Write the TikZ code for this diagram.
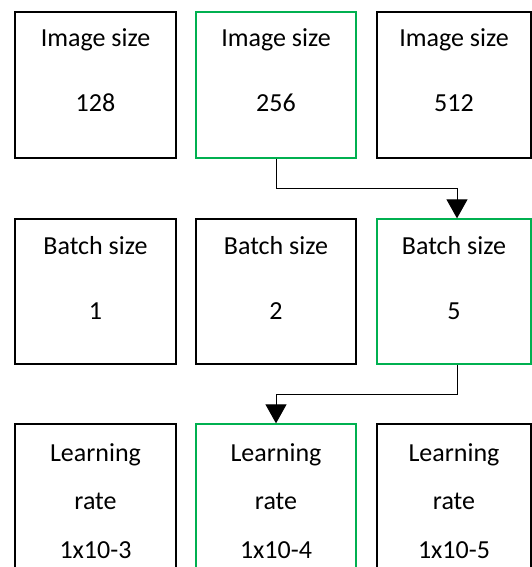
\documentclass[tikz,border=0pt]{standalone}
\usepackage{fontspec}
\setmainfont{Carlito}
\usetikzlibrary{arrows.meta}
\definecolor{okgreen}{RGB}{0,176,80}
\begin{document}
\begin{tikzpicture}[x=1pt,y=-1pt,
  box/.style={draw=black,line width=1.3pt,inner sep=0pt},
  gbox/.style={draw=okgreen,line width=1.3pt,inner sep=0pt},
  lbl/.style={anchor=base,inner sep=0pt,font=\fontsize{26}{30}\selectfont},
  conn/.style={line width=1pt,-{Triangle[width=21pt,length=19pt]}}]
\useasboundingbox (0,0) rectangle (532,567);
% row 1
\node[box] (a1) at (95.5,85) [minimum width=161pt,minimum height=146pt] {};
\node[gbox] (a2) at (276,85) [minimum width=160pt,minimum height=146pt] {};
\node[box] (a3) at (454,85) [minimum width=154pt,minimum height=146pt] {};
\node[lbl] (t11) at (95.5,47) {Image size};
\node[lbl] (t12) at (95.5,112) {128};
\node[lbl] (t21) at (276,47) {Image size};
\node[lbl] (t22) at (276,112) {256};
\node[lbl] (t31) at (454,47) {Image size};
\node[lbl] (t32) at (454,112) {512};
% row 2
\node[box] (b1) at (95.5,291.5) [minimum width=161pt,minimum height=145pt] {};
\node[box] (b2) at (276,291.5) [minimum width=160pt,minimum height=145pt] {};
\node[gbox] (b3) at (454,291.5) [minimum width=154pt,minimum height=145pt] {};
\node[lbl] (u11) at (95.5,254) {Batch size};
\node[lbl] (u12) at (95.5,319) {1};
\node[lbl] (u21) at (276,254) {Batch size};
\node[lbl] (u22) at (276,319) {2};
\node[lbl] (u31) at (454,254) {Batch size};
\node[lbl] (u32) at (454,319) {5};
% row 3
\node[box] (c1) at (95.5,500) [minimum width=161pt,minimum height=152pt] {};
\node[gbox] (c2) at (276,500) [minimum width=160pt,minimum height=152pt] {};
\node[box] (c3) at (454,500) [minimum width=154pt,minimum height=152pt] {};
\node[lbl] (v11) at (95.5,461) {Learning};
\node[lbl] (v12) at (95.5,509) {rate};
\node[lbl] (v13) at (95.5,558) {1x10-3};
\node[lbl] (v21) at (276,461) {Learning};
\node[lbl] (v22) at (276,509) {rate};
\node[lbl] (v23) at (276,558) {1x10-4};
\node[lbl] (v31) at (454,461) {Learning};
\node[lbl] (v32) at (454,509) {rate};
\node[lbl] (v33) at (454,558) {1x10-5};
% connectors
\coordinate (k1) at (276,188);
\coordinate (k2) at (457,188);
\draw[conn] (a2.south) -- (k1) -- (k2) -- (b3.north -| k2);
\coordinate (m1) at (457,394);
\coordinate (m2) at (276,394);
\draw[conn] (b3.south -| m1) -- (m1) -- (m2) -- (c2.north);
\end{tikzpicture}
\end{document}
